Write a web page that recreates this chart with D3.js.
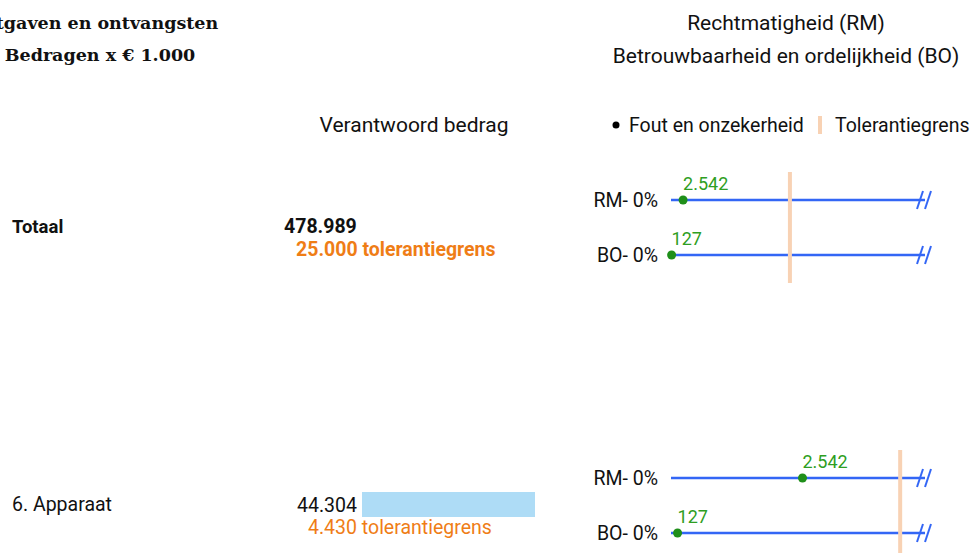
<!DOCTYPE html>
<html>
<head>
<meta charset="utf-8">
<script src="https://cdn.jsdelivr.net/npm/d3@7"></script>
<style>
  html, body { margin: 0; padding: 0; background: #fff; }
  svg { display: block; }
</style>
</head>
<body>
<div id="chart"></div>
<script>
// ── Data
const rowLabels   = ['Totaal', '6. Apparaat'];
const rowIsTotal  = [true, false];
const amounts     = [478989, 44304];
const tolerances  = [25000, 4430];
const rmValues    = [2542, 2542];
const boValues    = [127, 127];
const rmPct       = ['0%', '0%'];
const boPct       = ['0%', '0%'];
const scaleMax    = [53400, 4910];   // right end of each error axis (before break)

// ── Layout
const W = 971, H = 553;
const FONT = 'Roboto, Arial, sans-serif';
const ROW_Y = [226, 504];
const AX_X0 = 671, AX_X1 = 925;
const BAR_X = 362, BAR_W = 173;
const FS = '19.5px';

const COL = {
  text: '#111',
  orange: '#ef7d16',
  blue: '#3366f5',
  green: '#1f8f1a',
  greenText: '#2e9e22',
  tol: '#f8d2b4',
  bar: '#aedcf6'
};

const nl = d3.formatLocale({ decimal: ',', thousands: '.', grouping: [3], currency: ['€ ', ''] });
const fmt = nl.format(',d');

const svg = d3.select('#chart').append('svg')
  .attr('width', W).attr('height', H)
  .attr('font-family', FONT);

// ── Title (left, serif)
const SERIF = '"DejaVu Serif", "Liberation Serif", Georgia, serif';
svg.append('text')
  .attr('x', 96).attr('y', 29)
  .attr('text-anchor', 'middle')
  .attr('font-family', SERIF)
  .attr('font-weight', 700).attr('font-size', '17.5px')
  .attr('fill', COL.text)
  .text('Uitgaven en ontvangsten');
svg.append('text')
  .attr('x', 100).attr('y', 61)
  .attr('text-anchor', 'middle')
  .attr('font-family', SERIF)
  .attr('font-weight', 700).attr('font-size', '17.5px')
  .attr('fill', COL.text)
  .text('Bedragen x € 1.000');

// ── Right header
svg.append('text')
  .attr('x', 786).attr('y', 30)
  .attr('text-anchor', 'middle')
  .attr('font-size', '21px').attr('fill', COL.text)
  .text('Rechtmatigheid (RM)');
svg.append('text')
  .attr('x', 786).attr('y', 63)
  .attr('text-anchor', 'middle')
  .attr('font-size', '21px').attr('fill', COL.text)
  .text('Betrouwbaarheid en ordelijkheid (BO)');

svg.append('text')
  .attr('x', 414).attr('y', 132)
  .attr('text-anchor', 'middle')
  .attr('font-size', '21px').attr('fill', COL.text)
  .text('Verantwoord bedrag');

// ── Legend
const leg = svg.append('g');
leg.append('circle').attr('cx', 616).attr('cy', 125).attr('r', 3.5).attr('fill', '#000');
leg.append('text').attr('x', 629).attr('y', 132)
  .attr('font-size', FS).attr('fill', COL.text).text('Fout en onzekerheid');
leg.append('rect').attr('x', 818).attr('y', 116).attr('width', 4).attr('height', 18).attr('fill', COL.tol);
leg.append('text').attr('x', 835).attr('y', 132)
  .attr('font-size', FS).attr('fill', COL.text).text('Tolerantiegrens');

// ── Bar scale for verantwoord bedrag (non-total rows only)
const barMax = d3.max(amounts.filter((d, i) => !rowIsTotal[i]));
const barScale = d3.scaleLinear().domain([0, barMax]).range([0, BAR_W]);

// ── Rows
rowLabels.forEach((label, i) => {
  const y = ROW_Y[i];
  const total = rowIsTotal[i];
  const g = svg.append('g');
  const weight = total ? 700 : 400;

  g.append('text')
    .attr('x', 12).attr('y', y + 7)
    .attr('font-size', total ? '18.5px' : FS).attr('font-weight', weight)
    .attr('fill', COL.text).text(label);

  if (total) {
    g.append('text')
      .attr('x', 284).attr('y', y + 7)
      .attr('font-size', FS).attr('font-weight', 700)
      .attr('fill', COL.text).text(fmt(amounts[i]));
    g.append('text')
      .attr('x', 296).attr('y', y + 30)
      .attr('font-size', FS).attr('font-weight', 700)
      .attr('fill', COL.orange).text(fmt(tolerances[i]) + ' tolerantiegrens');
  } else {
    g.append('text')
      .attr('x', BAR_X - 5).attr('y', y + 8)
      .attr('text-anchor', 'end')
      .attr('font-size', FS).attr('fill', COL.text).text(fmt(amounts[i]));
    g.append('rect')
      .attr('x', BAR_X).attr('y', y - 12)
      .attr('width', barScale(amounts[i])).attr('height', 25)
      .attr('fill', COL.bar);
    g.append('text')
      .attr('x', 308).attr('y', y + 30)
      .attr('font-size', FS)
      .attr('fill', COL.orange).text(fmt(tolerances[i]) + ' tolerantiegrens');
  }

  // error axis scale for this row
  const x = d3.scaleLinear().domain([0, scaleMax[i]]).range([AX_X0, AX_X1]);
  const lines = [
    { key: 'RM', y: y - 26, val: rmValues[i], pct: rmPct[i] },
    { key: 'BO', y: y + 29, val: boValues[i], pct: boPct[i] }
  ];

  lines.forEach(l => {
    g.append('text')
      .attr('x', 658).attr('y', l.y + 7)
      .attr('text-anchor', 'end')
      .attr('font-size', FS).attr('fill', COL.text)
      .text(l.key + '- ' + l.pct);
    g.append('line')
      .attr('x1', x(0)).attr('x2', x(scaleMax[i]))
      .attr('y1', l.y).attr('y2', l.y)
      .attr('stroke', COL.blue).attr('stroke-width', 2.5);
    // axis break mark
    [920, 928].forEach(bx => {
      g.append('line')
        .attr('x1', bx - 3).attr('y1', l.y + 9)
        .attr('x2', bx + 3).attr('y2', l.y - 9)
        .attr('stroke', COL.blue).attr('stroke-width', 2);
    });
  });

  // tolerance line
  g.append('line')
    .attr('x1', x(tolerances[i])).attr('x2', x(tolerances[i]))
    .attr('y1', lines[0].y - 28).attr('y2', lines[1].y + 28)
    .attr('stroke', COL.tol).attr('stroke-width', 4);

  // dots + labels on top
  lines.forEach(l => {
    g.append('circle')
      .attr('cx', x(l.val)).attr('cy', l.y).attr('r', 4.5)
      .attr('fill', COL.green);
    g.append('text')
      .attr('x', x(l.val)).attr('y', l.y - 10)
      .attr('font-size', '18px').attr('fill', COL.greenText)
      .text(fmt(l.val));
  });
});
</script>
</body>
</html>
